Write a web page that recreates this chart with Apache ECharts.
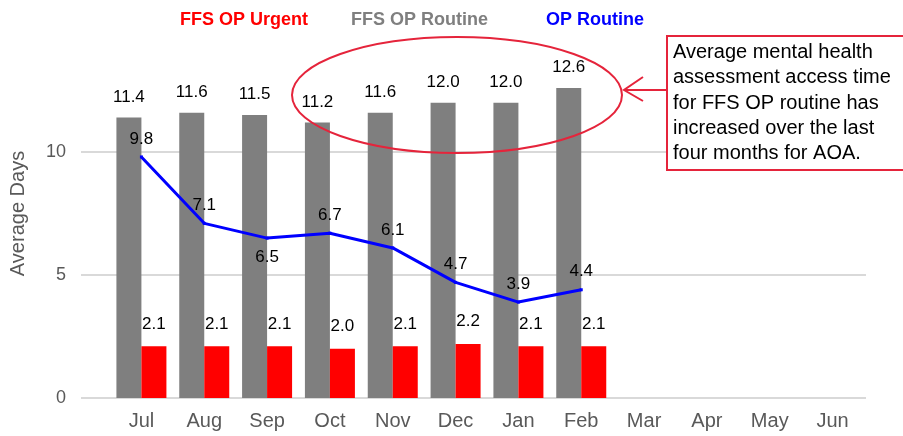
<!DOCTYPE html>
<html>
<head>
<meta charset="utf-8">
<script src="https://cdn.jsdelivr.net/npm/echarts@6/dist/echarts.min.js"></script>
<style>
  html, body { margin: 0; padding: 0; background: #fff; }
  #main { width: 903px; height: 436px; }
</style>
</head>
<body>
<div id="main"></div>
<script>
// months of the year, Jul..Jun
const months = ['Jul', 'Aug', 'Sep', 'Oct', 'Nov', 'Dec', 'Jan', 'Feb', 'Mar', 'Apr', 'May', 'Jun'];
const ffsRoutine = [11.4, 11.6, 11.5, 11.2, 11.6, 12.0, 12.0, 12.6];
const ffsUrgent = [2.1, 2.1, 2.1, 2.0, 2.1, 2.2, 2.1, 2.1];
const opRoutine = [9.8, 7.1, 6.5, 6.7, 6.1, 4.7, 3.9, 4.4];
const yTicks = [0, 5, 10];

const font = 'Liberation Sans, Arial, sans-serif';
const red = '#e5243b';
const noteLines = [
    'Average mental health',
    'assessment access time',
    'for FFS OP routine has',
    'increased over the last',
    'four months for AOA.'
];

function fmt(p) {
    return Number(p.value).toFixed(1);
}

function legendAt(name, color, left) {
    return {
        data: [name],
        left: left,
        top: 6,
        icon: 'none',
        itemWidth: 0,
        itemHeight: 0,
        selectedMode: false,
        textStyle: {color: color, fontSize: 18, fontWeight: 'bold', fontFamily: font}
    };
}

// Sep label sits under the line
const lineData = opRoutine.map((v, i) => i === 2 ? {value: v, label: {position: 'bottom', distance: 9}} : v);

const yRange = {type: 'value', min: 0, max: 15, interval: 5};

const option = {
    animation: false,
    textStyle: {fontFamily: font},
    legend: [
        legendAt('FFS OP Urgent', '#ff0000', 170),
        legendAt('FFS OP Routine', '#7f7f7f', 341),
        legendAt('OP Routine', '#0000ff', 536)
    ],
    grid: [
        {left: 110, right: 39, top: 29, bottom: 38},
        // wider plot area: carries the gridlines and value labels
        {left: 78, right: 37, top: 29, bottom: 38}
    ],
    xAxis: [
        {
            type: 'category',
            gridIndex: 0,
            data: months,
            axisLine: {show: false},
            axisTick: {show: false},
            axisLabel: {color: '#595959', fontSize: 20, margin: 13, fontFamily: font}
        },
        {type: 'value', gridIndex: 1, show: false}
    ],
    yAxis: [
        Object.assign({gridIndex: 0, show: false, splitLine: {show: false}}, yRange),
        Object.assign({
            gridIndex: 1,
            name: 'Average Days',
            nameLocation: 'middle',
            nameGap: 53,
            nameTextStyle: {color: '#595959', fontSize: 20, fontFamily: font},
            axisLine: {show: false},
            axisTick: {show: false},
            axisLabel: {
                color: '#595959', fontSize: 18, margin: 15, fontFamily: font,
                formatter: v => yTicks.includes(v) ? String(v) : ''
            },
            splitLine: {lineStyle: {color: ['#d9d9d9', '#d9d9d9', '#d9d9d9', 'rgba(0,0,0,0)'], width: 2}}
        }, yRange)
    ],
    series: [
        {
            name: 'FFS OP Routine',
            type: 'bar',
            data: ffsRoutine,
            barWidth: 25,
            barGap: '0%',
            z: 3,
            itemStyle: {color: '#7f7f7f'},
            label: {show: true, position: 'top', distance: 12, color: '#000', fontSize: 17, formatter: fmt}
        },
        {
            name: 'FFS OP Urgent',
            type: 'bar',
            data: ffsUrgent,
            barWidth: 25,
            barGap: '0%',
            z: 3,
            itemStyle: {color: '#ff0000'},
            label: {show: true, position: 'top', distance: 14, color: '#000', fontSize: 17, formatter: fmt}
        },
        {
            name: 'OP Routine',
            type: 'line',
            data: lineData,
            symbol: 'rect',
            symbolSize: 3,
            z: 4,
            lineStyle: {color: '#0000ff', width: 3},
            itemStyle: {color: '#0000ff'},
            label: {show: true, position: 'top', distance: 8, color: '#000', fontSize: 17, formatter: fmt}
        }
    ],
    graphic: [
        {
            type: 'ellipse',
            z: 100,
            shape: {cx: 457, cy: 95, rx: 165, ry: 58},
            style: {fill: 'none', stroke: red, lineWidth: 2}
        },
        {
            type: 'line',
            z: 100,
            shape: {x1: 667, y1: 90, x2: 624, y2: 90},
            style: {stroke: red, lineWidth: 2}
        },
        {
            type: 'polyline',
            z: 100,
            shape: {points: [[643, 77], [624, 90], [643, 101]]},
            style: {fill: 'none', stroke: red, lineWidth: 2}
        },
        {
            type: 'rect',
            z: 100,
            shape: {x: 667, y: 36, width: 240, height: 134},
            style: {fill: '#fff', stroke: red, lineWidth: 2}
        },
        {
            type: 'text',
            z: 101,
            left: 673,
            top: 40,
            style: {
                text: noteLines.join('\n'),
                fill: '#000',
                fontSize: 20,
                lineHeight: 25.3,
                fontFamily: font
            }
        }
    ]
};

const myChart = echarts.init(document.getElementById('main'));
myChart.setOption(option);
</script>
</body>
</html>
